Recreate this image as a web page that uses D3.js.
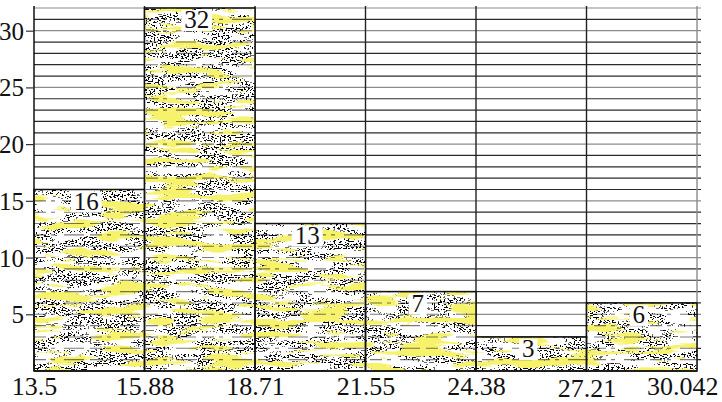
<!DOCTYPE html>
<html>
<head>
<meta charset="utf-8">
<script src="https://cdn.jsdelivr.net/npm/d3@7"></script>
<style>
  html, body { margin: 0; padding: 0; background: #fff; }
  svg { display: block; }
  text { font-family: "Liberation Serif", "DejaVu Serif", serif; fill: #111; }
</style>
</head>
<body>
<svg id="chart" width="722" height="402"></svg>
<script>
// Histogram: bin edges, counts per bin, and y tick values
const binEdges = ["13.5", "15.88", "18.71", "21.55", "24.38", "27.21", "30.042"];
const binCounts = [16, 32, 13, 7, 3, 6];
const yTickValues = [5, 10, 15, 20, 25, 30];
const yMax = 32;

const W = 722, H = 402;
const plot = { left: 34, right: 697, top: 8, bottom: 371 };
const serif = "'Liberation Serif', 'DejaVu Serif', serif";

const svg = d3.select("#chart");

// Bin edges are laid out at equal spacing along the axis
const x = d3.scalePoint().domain(binEdges).range([plot.left, plot.right]);
const y = d3.scaleLinear().domain([0, yMax]).range([plot.bottom, plot.top]);

const bins = binCounts.map((c, i) => ({ x0: binEdges[i], x1: binEdges[i + 1], count: c }));

const defs = svg.append("defs");

// Grainy photocopy-style fill: white paper, black speckle clusters, yellow horizontal strokes
const f = defs.append("filter")
  .attr("id", "grain")
  .attr("filterUnits", "userSpaceOnUse")
  .attr("x", 0).attr("y", 0).attr("width", W).attr("height", H)
  .attr("color-interpolation-filters", "sRGB");
f.append("feFlood").attr("flood-color", "#ffffff").attr("result", "paper");

// yellow strokes
f.append("feTurbulence").attr("type", "fractalNoise")
  .attr("baseFrequency", "0.02 0.12").attr("numOctaves", 3).attr("seed", 7).attr("result", "n1");
f.append("feColorMatrix").attr("in", "n1").attr("type", "matrix")
  .attr("values", "0 0 0 0 0.97  0 0 0 0 0.95  0 0 0 0 0.42  1 0 0 0 0").attr("result", "y0");
f.append("feComponentTransfer").attr("in", "y0").attr("result", "yellow")
  .append("feFuncA").attr("type", "discrete")
  .attr("tableValues", "0 0 0 0 0 0 0 0 0 0 0 0.6 1 1 1 1 1 1 1 1");

// fine black grain
f.append("feTurbulence").attr("type", "fractalNoise")
  .attr("baseFrequency", "0.5 0.85").attr("numOctaves", 1).attr("seed", 3).attr("result", "n2");
f.append("feColorMatrix").attr("in", "n2").attr("type", "matrix")
  .attr("values", "0 0 0 0 0.04  0 0 0 0 0.04  0 0 0 0 0.04  1 0 0 0 0").attr("result", "k0");
f.append("feComponentTransfer").attr("in", "k0").attr("result", "grainMask")
  .append("feFuncA").attr("type", "discrete")
  .attr("tableValues", "0 0 0 0 0 0 0 0 0 0 0 1 1 1 1 1 1 1 1 1");

// clusters where the grain shows
f.append("feTurbulence").attr("type", "fractalNoise")
  .attr("baseFrequency", "0.03 0.12").attr("numOctaves", 2).attr("seed", 19).attr("result", "n3");
f.append("feColorMatrix").attr("in", "n3").attr("type", "matrix")
  .attr("values", "0 0 0 0 0  0 0 0 0 0  0 0 0 0 0  1 0 0 0 0").attr("result", "c0");
f.append("feComponentTransfer").attr("in", "c0").attr("result", "clusters")
  .append("feFuncA").attr("type", "discrete")
  .attr("tableValues", "0 0 0 0 0 0 0 0 0 0.6 1 1 1 1 1 1 1 1 1 1");
f.append("feComposite").attr("in", "grainMask").attr("in2", "clusters")
  .attr("operator", "in").attr("result", "speck");

const m = f.append("feMerge");
m.append("feMergeNode").attr("in", "paper");
m.append("feMergeNode").attr("in", "speck");
m.append("feMergeNode").attr("in", "yellow");

// Clip the grain to the bar shapes
const clip = defs.append("clipPath").attr("id", "barsClip");
clip.selectAll("rect").data(bins).join("rect")
  .attr("x", d => x(d.x0))
  .attr("y", d => y(d.count))
  .attr("width", d => x(d.x1) - x(d.x0))
  .attr("height", d => y(0) - y(d.count));

// Horizontal grid lines at every unit
const gridVals = d3.range(1, yMax + 1);
svg.append("g").selectAll("line").data(gridVals).join("line")
  .attr("x1", plot.left).attr("x2", plot.right + 4)
  .attr("y1", d => y(d)).attr("y2", d => y(d))
  .attr("stroke", d => (d % 5 === 0 || d === yMax) ? "#8c8c8c" : "#2b2b2b")
  .attr("stroke-width", 1.2);

// Vertical lines at the bin edges
svg.append("g").selectAll("line").data(binEdges.slice(1)).join("line")
  .attr("x1", d => x(d)).attr("x2", d => x(d))
  .attr("y1", plot.top - 2).attr("y2", plot.bottom)
  .attr("stroke", (d, i) => i === binEdges.length - 2 ? "#8c8c8c" : "#222")
  .attr("stroke-width", 1.4);

// Textured bars
svg.append("rect")
  .attr("x", 0).attr("y", 0).attr("width", W).attr("height", H)
  .attr("fill", "#fff")
  .attr("filter", "url(#grain)")
  .attr("clip-path", "url(#barsClip)");

// Broken grid lines showing through the bars
svg.append("g").attr("clip-path", "url(#barsClip)")
  .selectAll("line").data(gridVals).join("line")
  .attr("x1", plot.left).attr("x2", plot.right)
  .attr("y1", d => y(d)).attr("y2", d => y(d))
  .attr("stroke", "#111").attr("stroke-width", 1.1)
  .attr("stroke-dasharray", "12 5 4 9 20 6")
  .attr("opacity", 0.55);

// Bar outlines
svg.append("g").selectAll("rect").data(bins).join("rect")
  .attr("x", d => x(d.x0))
  .attr("y", d => y(d.count))
  .attr("width", d => x(d.x1) - x(d.x0))
  .attr("height", d => y(0) - y(d.count))
  .attr("fill", "none")
  .attr("stroke", "#111")
  .attr("stroke-width", 1.5);

// Count labels on white boxes just inside the top of each bar
const lab = svg.append("g").selectAll("g").data(bins).join("g");
lab.append("rect").attr("fill", "#fff");
lab.append("text")
  .attr("x", d => (x(d.x0) + x(d.x1)) / 2 - 3)
  .attr("y", d => y(d.count) + 20)
  .attr("text-anchor", "middle")
  .attr("font-family", serif)
  .attr("font-size", 25)
  .text(d => d.count);
lab.each(function () {
  const g = d3.select(this);
  const b = g.select("text").node().getBBox();
  g.select("rect")
    .attr("x", b.x - 3).attr("y", b.y + 4)
    .attr("width", b.width + 6).attr("height", b.height - 6);
});

// Axes
const yAxis = d3.axisLeft(y).tickValues(yTickValues).tickSize(8).tickPadding(2);
const gy = svg.append("g").attr("transform", `translate(${plot.left},0)`).call(yAxis);
gy.attr("font-family", serif);
gy.select(".domain").attr("d", `M0,${plot.top - 2}V${plot.bottom}`).attr("stroke", "#111").attr("stroke-width", 1.5);
gy.selectAll(".tick line").attr("stroke", "#333").attr("stroke-width", 1.2);
gy.selectAll(".tick text")
  .attr("font-family", serif)
  .attr("font-size", 25).attr("fill", "#111").attr("dy", "0.34em");

const xAxis = d3.axisBottom(x).tickSize(0).tickPadding(0);
const gx = svg.append("g").attr("transform", `translate(0,${plot.bottom})`).call(xAxis);
gx.attr("font-family", serif);
gx.select(".domain").attr("d", `M${plot.left},0H${plot.right}`).attr("stroke", "#111").attr("stroke-width", 1.5);
gx.selectAll(".tick text")
  .attr("font-family", serif)
  .attr("font-size", 26).attr("fill", "#111")
  .attr("dy", null)
  .attr("y", (d, i) => i === 5 ? 26 : 24)
  .attr("text-anchor", (d, i) => i === binEdges.length - 1 ? "end" : "middle")
  .attr("x", (d, i) => i === binEdges.length - 1 ? 21 : 0);
</script>
</body>
</html>
